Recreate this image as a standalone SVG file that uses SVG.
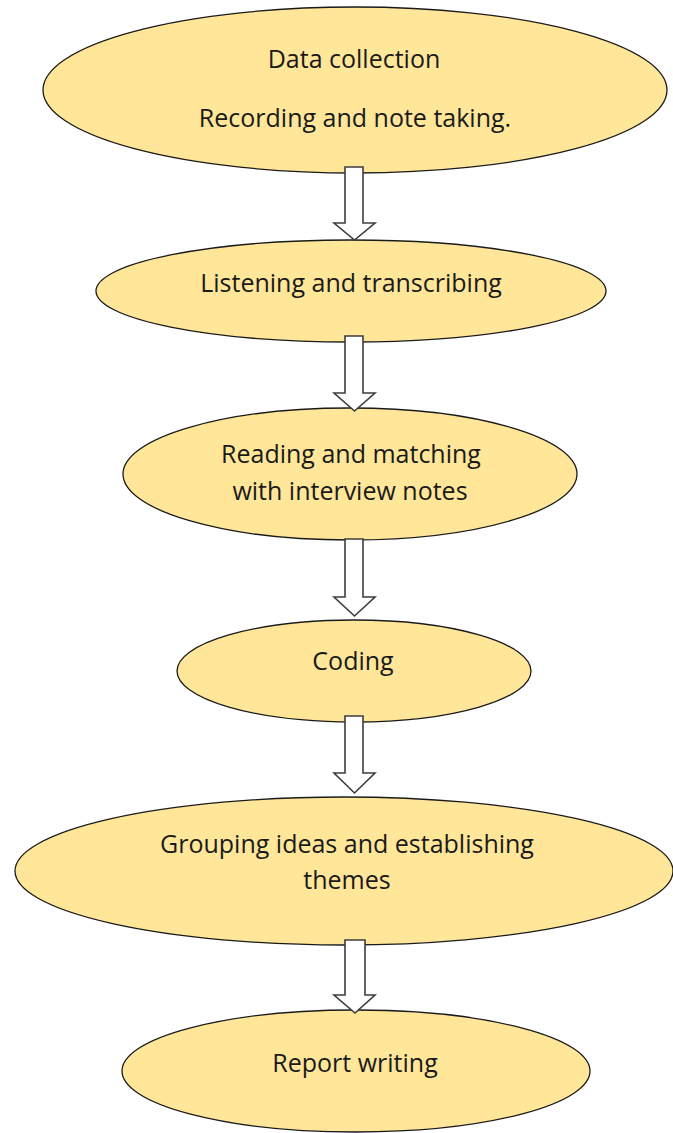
<svg xmlns="http://www.w3.org/2000/svg" width="673" height="1133" viewBox="0 0 673 1133">
  <style>
    .node ellipse { fill: #FFE699; stroke: #1a1a1a; stroke-width: 1.3; }
    .node text { font-family: "Open Sans", "Liberation Sans", sans-serif; font-size: 25px; fill: #1a1a1a; text-anchor: middle; }
    .arrow { fill: #ffffff; stroke: #3c3c3c; stroke-width: 1.6; stroke-linejoin: miter; }
  </style>
  <rect width="673" height="1133" fill="#ffffff"/>

  <g id="node-data-collection" class="node">
    <ellipse cx="355" cy="90" rx="312" ry="83"/>
    <text x="354" y="68">Data collection</text>
    <text x="355" y="127">Recording and note taking.</text>
  </g>
  <g id="node-listening" class="node">
    <ellipse cx="351" cy="291" rx="255" ry="51"/>
    <text x="351" y="292">Listening and transcribing</text>
  </g>
  <g id="node-reading" class="node">
    <ellipse cx="350" cy="474" rx="227" ry="66"/>
    <text x="351" y="463">Reading and matching</text>
    <text x="350" y="500">with interview notes</text>
  </g>
  <g id="node-coding" class="node">
    <ellipse cx="354" cy="671" rx="177" ry="51"/>
    <text x="353" y="670">Coding</text>
  </g>
  <g id="node-grouping" class="node">
    <ellipse cx="344" cy="871" rx="329" ry="74"/>
    <text x="347" y="853">Grouping ideas and establishing</text>
    <text x="347" y="889">themes</text>
  </g>
  <g id="node-report" class="node">
    <ellipse cx="356" cy="1071" rx="234" ry="61"/>
    <text x="355" y="1072">Report writing</text>
  </g>

  <!-- hollow block arrows between consecutive steps -->
  <g id="connectors">
    <path class="arrow" d="M345,167 H363 V223 H375 L354.5,240 L334,223 H345 Z"/>
    <path class="arrow" d="M345,336 H363 V393 H375 L354.5,411 L334,393 H345 Z"/>
    <path class="arrow" d="M345,539 H363 V597 H375 L354.5,616 L334,597 H345 Z"/>
    <path class="arrow" d="M345,716 H363 V773 H375 L354.5,793 L334,773 H345 Z"/>
    <path class="arrow" d="M345,940 H365 V995 H375 L355,1013 L334,995 H345 Z"/>
  </g>
</svg>
